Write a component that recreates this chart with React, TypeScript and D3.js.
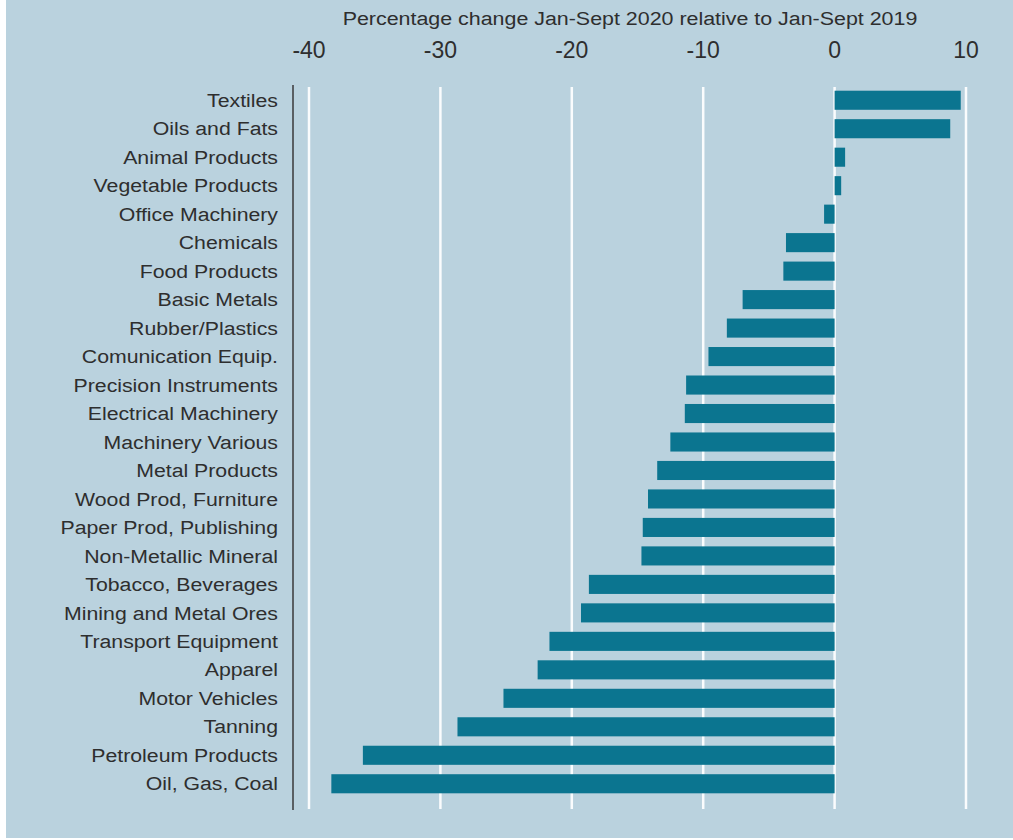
import React from 'react';
import * as d3 from 'd3';

// sectors, top to bottom
const categories = [
  'Textiles', 'Oils and Fats', 'Animal Products', 'Vegetable Products', 'Office Machinery',
  'Chemicals', 'Food Products', 'Basic Metals', 'Rubber/Plastics', 'Comunication Equip.',
  'Precision Instruments', 'Electrical Machinery', 'Machinery Various', 'Metal Products',
  'Wood Prod, Furniture', 'Paper Prod, Publishing', 'Non-Metallic Mineral', 'Tobacco, Beverages',
  'Mining and Metal Ores', 'Transport Equipment', 'Apparel', 'Motor Vehicles', 'Tanning',
  'Petroleum Products', 'Oil, Gas, Coal',
];

// % change Jan-Sept 2020 vs Jan-Sept 2019
const values = [
  9.6, 8.8, 0.8, 0.5, -0.8,
  -3.7, -3.9, -7.0, -8.2, -9.6,
  -11.3, -11.4, -12.5, -13.5,
  -14.2, -14.6, -14.7, -18.7,
  -19.3, -21.7, -22.6, -25.2, -28.7,
  -35.9, -38.3,
];

const ticks = [-40, -30, -20, -10, 0, 10];

const title = 'Percentage change Jan-Sept 2020 relative to Jan-Sept 2019';

export default function App() {
  const width = 1013;
  const height = 840;

  const x = d3.scaleLinear().domain([-40, 10]).range([309, 966]);
  const y = d3.scaleBand<string>()
    .domain(categories)
    .range([86, 798])
    .paddingInner(0.33)
    .paddingOuter(0.165);

  const font = '"Liberation Sans", Arial, sans-serif';
  const ink = '#2e2e2e';

  return (
    <div style={{ position: 'absolute', left: 0, top: 0 }}>
      <svg width={width} height={height} style={{ display: 'block' }}>
        <rect x={0} y={0} width={width} height={height} fill="#ffffff" />
        <rect x={6} y={0} width={width - 6} height={838} fill="#bad2de" />

        {/* source text is a bit stretched sideways */}
        <g transform="translate(630,25) scale(1.19,1)">
          <text textAnchor="middle" fontFamily={font} fontSize={18} fill={ink}>
            {title}
          </text>
        </g>

        {ticks.map(t => (
          <g key={t}>
            <text x={x(t)} y={58} textAnchor="middle" fontFamily={font} fontSize={23} fill={ink}>
              {t}
            </text>
            <line x1={x(t)} x2={x(t)} y1={87} y2={809} stroke="#fafcfd" strokeWidth={2.5} />
          </g>
        ))}

        <line x1={293} x2={293} y1={85} y2={810} stroke="#5a5f63" strokeWidth={2} />

        {categories.map((c, i) => {
          const v = values[i];
          const cy = (y(c) ?? 0) + y.bandwidth() / 2;
          return (
            <g key={c}>
              <rect
                x={x(Math.min(0, v))}
                y={y(c)}
                width={Math.abs(x(v) - x(0))}
                height={y.bandwidth()}
                fill="#0b7590"
              />
              <g transform={`translate(278,${cy}) scale(1.12,1)`}>
                <text dy="0.35em" textAnchor="end" fontFamily={font} fontSize={19} fill={ink}>
                  {c}
                </text>
              </g>
            </g>
          );
        })}
      </svg>
    </div>
  );
}
